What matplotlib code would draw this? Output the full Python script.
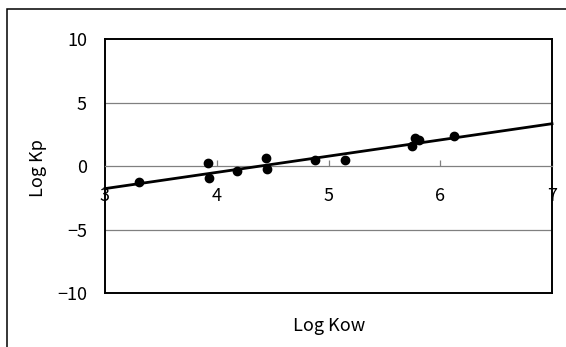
import matplotlib.pyplot as plt
from matplotlib.patches import Rectangle

plt.rcParams['font.family'] = ['Noto Sans CJK JP', 'DejaVu Sans']
plt.rcParams['axes.unicode_minus'] = True

# datos
log_kow = [3.30, 3.92, 3.93, 4.18, 4.44, 4.45, 4.88, 5.15, 5.75, 5.77, 5.81, 6.12]
log_kp = [-1.26, 0.26, -0.94, -0.39, 0.63, -0.21, 0.50, 0.47, 1.57, 2.20, 2.07, 2.39]
# recta de regresion (extremos)
line_x = [3, 7]
line_y = [-1.78, 3.33]

x_ticks = [3, 4, 5, 6, 7]
y_ticks = [-10, -5, 0, 5, 10]

fig = plt.figure(figsize=(5.66, 3.47), dpi=100)
ax = fig.add_axes([105 / 566, 1 - 293 / 347, 447 / 566, 254 / 347])

# marco exterior (solo arriba e izquierda visibles)
fig.patches.append(Rectangle((7 / 566, -0.1), 1.2, 1 - 9 / 347 + 0.1,
                             transform=fig.transFigure, fill=False,
                             edgecolor='black', linewidth=1.1))

for y in [5, -5]:
    ax.axhline(y, color='#808080', linewidth=0.9, zorder=1)
ax.axhline(-10, color='black', linewidth=1.4, zorder=3, clip_on=False)

ax.plot(line_x, line_y, color='black', linewidth=2.0, zorder=4, clip_on=False)
ax.plot(log_kow, log_kp, 'o', color='black', markersize=6, zorder=5)

ax.set_xlim(3, 7)
ax.set_ylim(-10, 10)

ax.spines['bottom'].set_position(('data', 0))
ax.spines['bottom'].set_color('#808080')
ax.spines['bottom'].set_linewidth(0.9)
for s in ['top', 'left', 'right']:
    ax.spines[s].set_linewidth(1.4)
    ax.spines[s].set_color('black')

ax.set_xticks(x_ticks)
ax.set_yticks(y_ticks)
ax.set_yticklabels(['−10', '−5', '0', '5', '10'])
ax.tick_params(axis='x', direction='in', length=4, width=0.9, color='#808080',
               pad=15, labelsize=13)
ax.tick_params(axis='y', length=0, pad=13, labelsize=13)

fig.text(329 / 566, 1 - 326 / 347, 'Log Kow', ha='center', va='center', fontsize=13)
fig.text(38 / 566, 1 - 168 / 347, 'Log Kp', ha='center', va='center',
         rotation=90, fontsize=13)

fig.savefig('out.png', dpi=100)
